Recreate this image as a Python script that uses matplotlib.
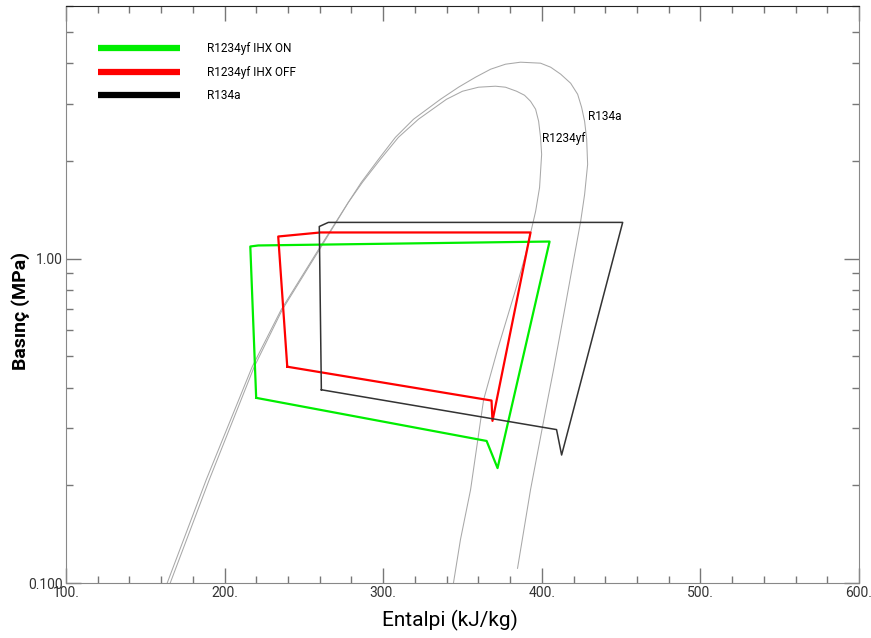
import numpy as np
import matplotlib
matplotlib.use("Agg")
import matplotlib.pyplot as plt
from matplotlib.ticker import FixedLocator, FixedFormatter, MultipleLocator, FormatStrFormatter

# saturation dome, R1234yf (h kJ/kg, p MPa)
yf_h = [163.8, 188.4, 217.4, 235.7, 260.4, 278.0, 286.9, 298.2, 309.6, 322.2,
        339.9, 350.0, 360.1, 370.8, 377.1, 384.1, 389.1, 392.9, 396.1,
        398.0, 399.2, 399.9, 398.6, 396.1, 389.8, 383.5, 372.1, 363.3, 355.1,
        348.7, 344.3]
yf_p = [0.100, 0.208, 0.464, 0.696, 1.089, 1.489, 1.717, 2.021, 2.363, 2.686,
        3.095, 3.277, 3.372, 3.396, 3.372, 3.277, 3.185, 3.052, 2.884,
        2.648, 2.363, 2.094, 1.656, 1.397, 1.029, 0.802, 0.524, 0.367, 0.194,
        0.136, 0.100]

# saturation dome, R134a
r134_h = [165.7, 190.3, 218.7, 236.4, 261.0, 278.0, 286.2, 297.0, 307.7, 319.1,
          336.1, 347.5, 358.2, 367.7, 377.1, 386.6, 399.2, 405.6, 411.9, 418.2,
          422.6, 425.1, 427.0, 428.3, 428.9, 427.0, 424.5, 420.7, 414.4, 407.4,
          403.7, 392.9, 384.7]
r134_p = [0.100, 0.208, 0.464, 0.696, 1.089, 1.489, 1.717, 2.021, 2.363, 2.686,
          3.095, 3.372, 3.620, 3.831, 3.970, 4.027, 3.999, 3.886, 3.699, 3.468,
          3.208, 2.924, 2.648, 2.329, 1.950, 1.576, 1.301, 1.029, 0.696, 0.454,
          0.367, 0.194, 0.111]

# cycles
on_h = [219.9, 365.2, 372.1, 404.9, 221.2, 216.2, 219.9]
on_p = [0.372, 0.274, 0.226, 1.128, 1.097, 1.089, 0.372]

off_h = [239.5, 368.3, 368.9, 392.9, 260.4, 233.8, 239.5]
off_p = [0.464, 0.365, 0.316, 1.203, 1.203, 1.169, 0.464]

a_h = [261.0, 409.3, 412.5, 451.0, 265.4, 259.7, 261.0]
a_p = [0.394, 0.297, 0.248, 1.292, 1.292, 1.255, 0.394]

series_names = ["R1234yf IHX ON", "R1234yf IHX OFF", "R134a"]
series_colors = ["#00ee00", "#ff0000", "#000000"]

narrow = ["Liberation Sans Narrow", "Roboto", "DejaVu Sans"]

fig = plt.figure(figsize=(8.71, 6.38), dpi=100)
ax = fig.add_axes([0.0758, 0.0862, 0.9104, 0.9044])

ax.plot(yf_h, yf_p, color="#a8a8a8", lw=0.75)
ax.plot(r134_h, r134_p, color="#a8a8a8", lw=0.75)
ax.plot(on_h, on_p, color=series_colors[0], lw=1.6)
ax.plot(off_h, off_p, color=series_colors[1], lw=1.6)
ax.plot(a_h, a_p, color="#333333", lw=1.1)

ax.text(428.9, 2.74, "R134a", fontsize=8.5, family=narrow, va="center")
ax.text(399.9, 2.35, "R1234yf", fontsize=8.5, family=narrow, va="center")

# legend drawn by hand
for i, (name, col) in enumerate(zip(series_names, series_colors)):
    yy = [0.927, 0.885, 0.845][i]
    ax.plot([0.040, 0.144], [yy, yy], color=col, lw=4.5, transform=ax.transAxes,
            solid_capstyle="butt")
    ax.text(0.178, yy, name, fontsize=8.5, family=narrow, va="center",
            transform=ax.transAxes)

ax.set_yscale("log")
ax.set_xlim(100, 600)
ax.set_ylim(0.1, 6)

ax.xaxis.set_major_locator(MultipleLocator(100))
ax.xaxis.set_minor_locator(MultipleLocator(20))
ax.xaxis.set_major_formatter(FormatStrFormatter("%d."))
ax.yaxis.set_major_locator(FixedLocator([0.1, 1.0]))
ax.yaxis.set_major_formatter(FixedFormatter(["0.100", "1.00"]))
ax.yaxis.set_minor_locator(FixedLocator([0.2, 0.3, 0.4, 0.5, 0.6, 0.7, 0.8, 0.9,
                                         2, 3, 4, 5, 6]))
ax.yaxis.set_minor_formatter(FixedFormatter([""] * 13))

ax.tick_params(which="both", direction="in", top=True, right=True,
               color="#777777", labelsize=10, pad=2)
ax.tick_params(which="major", length=11, width=1)
ax.tick_params(which="minor", length=5, width=1)
for lab in ax.get_xticklabels() + ax.get_yticklabels():
    lab.set_family(narrow)
    lab.set_color("#333333")

for s in ["left", "bottom", "right"]:
    ax.spines[s].set_color("#888888")
ax.spines["top"].set_color("#222222")

ax.set_xlabel("Entalpi (kJ/kg)", fontsize=15, family="Roboto")
ax.xaxis.set_label_coords(0.484, -0.047)
ax.set_ylabel("Basınç (MPa)", fontsize=14, family="Roboto", fontweight="bold")
ax.yaxis.set_label_coords(-0.045, 0.471)

fig.savefig("out.png", dpi=100)
